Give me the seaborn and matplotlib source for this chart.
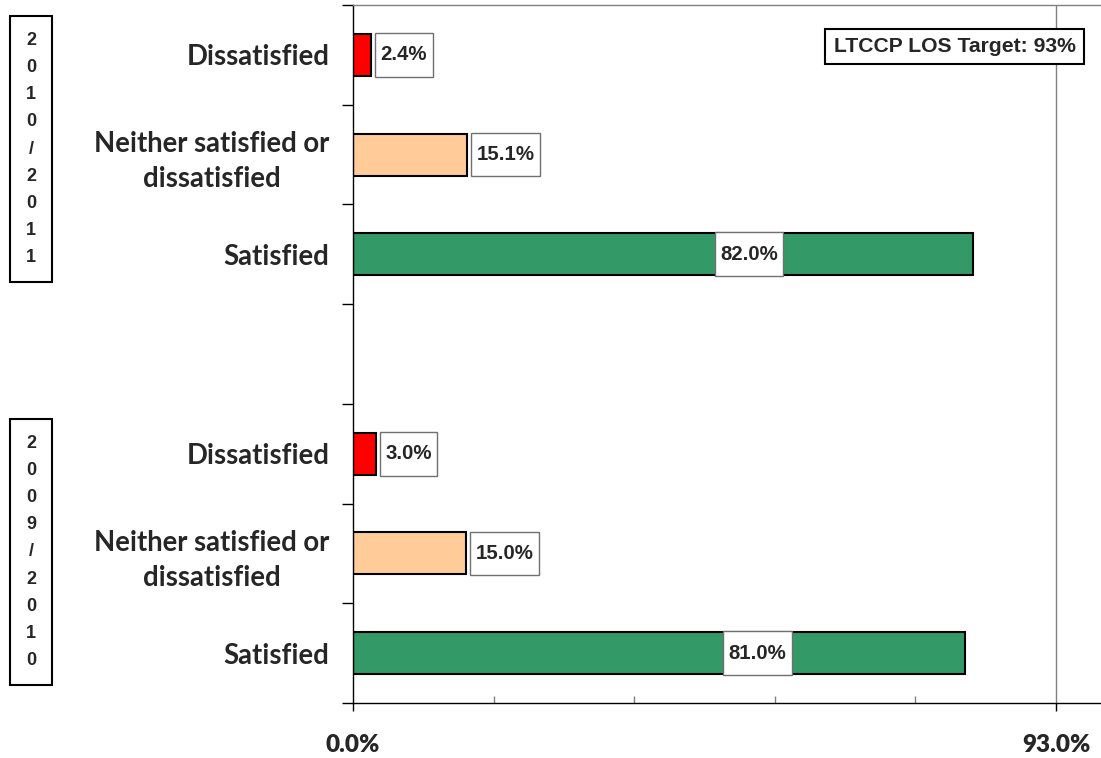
import numpy as np
import pandas as pd
import matplotlib
matplotlib.use("Agg")
import matplotlib.pyplot as plt
from matplotlib.path import Path
from matplotlib.ticker import MultipleLocator, FixedLocator
import seaborn as sns

# Survey results (percent of respondents)
periods = ["2010/2011", "2009/2010"]
ratings = ["Dissatisfied", "Neither satisfied or\ndissatisfied", "Satisfied"]
pct_2010_2011 = [2.4, 15.1, 82.0]
pct_2009_2010 = [3.0, 15.0, 81.0]
target_pct = 93.0
target_label = "LTCCP LOS Target: 93%"
xtick_labels = ["0.0%", "93.0%"]
rating_colors = ["#FF0000", "#FFCC99", "#339966"]
# where the "Satisfied" value labels sit along the bar
satisfied_label_x = [52.4, 53.5]

sns.set_style("white")
plt.rcParams["font.family"] = ["Liberation Sans", "DejaVu Sans"]

# one row per bar; each period is a block of three rows with a blank row between
rows = []
for g, values in enumerate([pct_2010_2011, pct_2009_2010]):
    for i, (rating, v) in enumerate(zip(ratings, values)):
        rows.append({"period": periods[g], "rating": rating, "pct": v,
                     "pos": g * (len(ratings) + 1) + i})
df = pd.DataFrame(rows)

fig = plt.figure(figsize=(11.01, 7.58), dpi=100)
ax = fig.add_axes([353 / 1101, 1 - 703 / 758, 748 / 1101, 698 / 758])

sns.barplot(data=df, x="pct", y="pos", hue="rating", hue_order=ratings,
            palette=rating_colors, orient="h", native_scale=True, dodge=False,
            width=0.42, saturation=1, edgecolor="black", linewidth=1.5,
            errorbar=None, legend=False, ax=ax)

n_slots = 2 * len(ratings) + 1
ax.set_ylim(n_slots - 0.5, -0.5)
ax.set_xlim(0, 98.95)

# category labels on the left
ax.set_yticks(df["pos"].tolist())
ax.set_yticklabels(df["rating"].tolist(), fontfamily="Lato", fontweight="bold",
                   fontsize=19.8, multialignment="center", linespacing=1.42)
ax.yaxis.set_minor_locator(FixedLocator(np.arange(-0.5, n_slots, 1.0)))
ax.tick_params(axis="y", which="major", length=0, pad=17)
ax.tick_params(axis="y", which="minor", direction="out", length=8, width=1,
               color="black", left=True)
ax.set_ylabel("")

# x axis: only the origin and the target are labelled
ax.set_xticks([0, target_pct])
ax.set_xticklabels(xtick_labels, fontfamily="Lato", fontweight="heavy", fontsize=17.5)
ax.xaxis.set_minor_locator(MultipleLocator(target_pct / 5))
ax.tick_params(axis="x", which="major", direction="out", length=6, width=1,
               color="black", pad=16, bottom=True)
ax.tick_params(axis="x", which="minor", direction="in", length=5, width=1,
               color="#808080", bottom=True)
ax.set_xlabel("")

for side in ["left", "bottom"]:
    ax.spines[side].set_color("black")
    ax.spines[side].set_linewidth(1)
ax.spines["top"].set_color("#808080")
ax.spines["top"].set_linewidth(1)
ax.spines["right"].set_visible(False)

ax.axvline(target_pct, color="#808080", linewidth=1, zorder=0)


def label_box(x0, y0, width, height, mutation_size):
    padx = 0.27 * mutation_size
    half_h = 1.07 * mutation_size
    cy = y0 + height / 2
    verts = [(x0 - padx, cy - half_h), (x0 + width + padx, cy - half_h),
             (x0 + width + padx, cy + half_h), (x0 - padx, cy + half_h),
             (x0 - padx, cy - half_h)]
    codes = [Path.MOVETO, Path.LINETO, Path.LINETO, Path.LINETO, Path.CLOSEPOLY]
    return Path(verts, codes)


box_props = dict(boxstyle=label_box, facecolor="white", edgecolor="#707070",
                 linewidth=1)
label_size = 14.7
for _, r in df.iterrows():
    txt = f"{r['pct']:.1f}%"
    if r["rating"] == ratings[-1]:
        g = periods.index(r["period"])
        ax.text(satisfied_label_x[g], r["pos"], txt, ha="center", va="center",
                fontsize=label_size, fontweight="bold", bbox=box_props, zorder=5)
    else:
        ax.annotate(txt, xy=(r["pct"], r["pos"]),
                    xytext=(4 + 0.27 * label_size * 100 / 72, 0),
                    textcoords="offset pixels", ha="left", va="center",
                    fontsize=label_size, fontweight="bold", bbox=box_props, zorder=5)

# target note
ax.text(0.8045, 0.9405, target_label, transform=ax.transAxes, ha="center",
        va="center", fontsize=15.2, fontweight="bold",
        bbox=dict(boxstyle="square,pad=0.4", facecolor="white",
                  edgecolor="black", linewidth=1.5))

# period tags at the far left
for period, cy in zip(periods, [149, 552]):
    fig.text(31 / 1101, 1 - cy / 758, "\n".join(period), ha="center", va="center",
             fontsize=13, fontweight="bold", linespacing=1.78,
             bbox=dict(boxstyle="square,pad=0.88", facecolor="white",
                       edgecolor="black", linewidth=1.5))

fig.savefig("out.png", dpi=100)
